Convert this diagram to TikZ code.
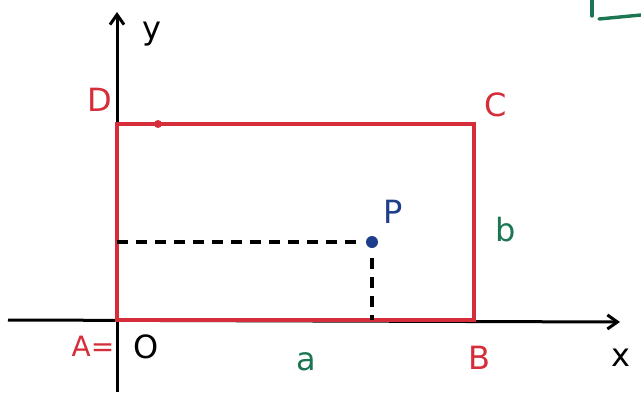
\documentclass[tikz,border=0pt]{standalone}
\usepackage{fontspec}
\setmainfont{DejaVu Sans}
\usetikzlibrary{arrows.meta}
\definecolor{rred}{RGB}{214,45,58}
\definecolor{ggreen}{RGB}{28,118,82}
\definecolor{bblue}{RGB}{30,62,140}
\tikzset{
  axis/.style={line width=3pt, black, -{Straight Barb[length=10pt,width=14pt,line width=3pt]}},
  rect/.style={line width=3.6pt, rred},
  guide/.style={line width=3.4pt, black, dash pattern=on 11pt off 8pt},
  lab/.style={font=\fontsize{32}{32}\selectfont, inner sep=0pt},
}
\begin{document}
\begin{tikzpicture}[x=1pt,y=-1pt]
\useasboundingbox (0,0) rectangle (641,397);
\fill[white] (0,0) rectangle (641,397);
% corners
\coordinate (A) at (117,320);
\coordinate (B) at (474,320);
\coordinate (C) at (474,124);
\coordinate (D) at (117,124);
\coordinate (P) at (372,242);
\coordinate (Py) at (117,242);
\coordinate (Px) at (372,320);
\coordinate (Pv) at (372,258);
\coordinate (xs) at (8,320);
\coordinate (xe) at (620,322);
\coordinate (ys) at (117,392);
\coordinate (ye) at (117,12);
% axes
\draw[axis] (xs) -- (xe);
\draw[axis] (ys) -- (ye);
% rectangle
\draw[rect] (A) -- (B) -- (C) -- (D) -- cycle;
\fill[rred] (158,124) circle (4pt);
% dashed guides
\draw[guide] (Py) -- (360,242);
\draw[guide] (Pv) -- (Px);
\fill[bblue] (P) circle (6pt);
% labels
\node[lab, rred] (lD) at (100,100) {D};
\node[lab, rred] (lC) at (496,105) {C};
\node[lab, rred] (lB) at (479,358) {B};
\node[lab, rred, font=\fontsize{28}{28}\selectfont] (lA) at (93,346) {A=};
\node[lab, black] (lO) at (146,347) {O};
\node[lab, bblue] (lP) at (393,212) {P};
\node[lab, ggreen] (lb) at (506,230) {b};
\node[lab, ggreen] (la) at (306,362) {a};
\node[lab, black] (lx) at (621,358) {x};
\node[lab, black] (ly) at (152,34) {y};
% green fragment top right
\draw[ggreen, line width=3.4pt, line cap=round] (592,0) -- (592,16);
\draw[ggreen, line width=3.4pt, line cap=round] (599,19) -- (641,15);
\end{tikzpicture}
\end{document}
